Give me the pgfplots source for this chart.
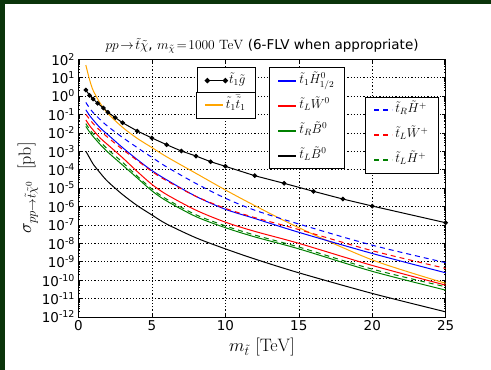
\documentclass[border=0pt]{standalone}
\usepackage{fix-cm}
\usepackage[no-math]{fontspec}
\setmainfont{DejaVu Sans}
\usepackage{pgfplots}
\pgfplotsset{compat=1.18}
\definecolor{bggreen}{RGB}{10,52,10}
\definecolor{mplorange}{RGB}{255,165,0}
\definecolor{mplgreen}{RGB}{0,128,0}
\pgfplotsset{
  geom/.style={at={(78.5pt,53pt)}, anchor=south west, scale only axis,
    width=367.2pt, height=257.8pt},
  legax/.style={geom, hide axis, xmin=0, xmax=1, ymin=0, ymax=1,
    legend cell align=left,
    legend image code/.code={\draw[##1] (0pt,0pt) -- (18pt,0pt);},
    legend style={draw=black, line width=0.8pt, fill=white, inner xsep=8pt, inner ysep=4pt,
      row sep=7pt, font=\fontsize{13}{15}\selectfont,
      nodes={inner sep=2pt, text height=10pt, text depth=4pt},
      /tikz/every even column/.append style={column sep=15pt}},
  },
}
\begin{document}
\begin{tikzpicture}[x=1pt,y=1pt]
\fill[bggreen] (0,0) rectangle (491,370);
\fill[white] (5,0) rectangle (491,366);
\begin{axis}[geom,
  xmin=0, xmax=25, ymode=log, ymin=1e-12, ymax=1e2,
  xtick={0,5,10,15,20,25},
  ytickten={-12,...,2},
  yticklabels={10\textsuperscript{-12},10\textsuperscript{-11},10\textsuperscript{-10},10\textsuperscript{-9},10\textsuperscript{-8},10\textsuperscript{-7},10\textsuperscript{-6},10\textsuperscript{-5},10\textsuperscript{-4},10\textsuperscript{-3},10\textsuperscript{-2},10\textsuperscript{-1},10\textsuperscript{0},10\textsuperscript{1},10\textsuperscript{2}},
  /pgf/number format/assume math mode=true,
  ticklabel style={font=\fontsize{13.5}{15}\selectfont},
  tick align=inside, major tick length=4pt, minor tick length=2pt,
  tick style={black, line width=0.6pt},
  axis line style={black, line width=1pt},
  grid=major, major grid style={black, line width=0.6pt, dash pattern=on 1.2pt off 2pt},
  title={$pp\!\rightarrow\!\tilde t\tilde\chi$, $m_{\tilde\chi}\!=\!1000\ \mathrm{TeV}$ (6-FLV when appropriate)},
  title style={font=\fontsize{13.5}{15}\selectfont, at={(0.5,1)}, anchor=south, yshift=-4pt},
  xlabel={$m_{\tilde t}\ [\mathrm{TeV}]$},
  ylabel={$\sigma_{pp\rightarrow\tilde t\tilde\chi^0}\ \ [\mathrm{pb}]$},
  label style={font=\fontsize{18}{20}\selectfont},
  ylabel style={yshift=-3pt},
  every axis plot/.append style={line width=1pt},
]
% t1 tbar1 (orange)
\addplot[mplorange, smooth] coordinates {(0.5,4.786e1) (0.75,7.943e0) (1,1.995e0) (1.5,3.802e-1) (2,1.122e-1) (3,1.995e-2) (4,5.012e-3) (5,1.585e-3) (6,5.012e-4) (8,6.310e-5) (10,7.943e-6) (12,1.122e-6) (15,7.079e-8) (20,1.259e-9) (25,6.761e-11)};
% t_R H+ (blue dashed)
\addplot[blue, smooth, dash pattern=on 5pt off 4pt] coordinates {(0.5,4.467e-1) (0.75,2.239e-1) (1,1.259e-1) (1.5,5.012e-2) (2,2.239e-2) (3,5.623e-3) (4,1.585e-3) (5,4.677e-4) (6,1.413e-4) (8,1.778e-5) (10,2.818e-6) (12,6.310e-7) (15,1.122e-7) (20,7.943e-9) (25,8.913e-10)};
% t1 H0 (blue)
\addplot[blue, smooth] coordinates {(0.5,1.778e-1) (0.75,8.913e-2) (1,5.012e-2) (1.5,1.778e-2) (2,7.943e-3) (3,1.585e-3) (4,3.548e-4) (5,8.913e-5) (6,2.818e-5) (8,3.548e-6) (10,7.079e-7) (12,2.239e-7) (15,3.981e-8) (20,2.818e-9) (25,2.512e-10)};
% t_L W+ (red dashed)
\addplot[red, smooth, dash pattern=on 5pt off 4pt] coordinates {(0.5,1.0e-1) (0.75,5.623e-2) (1,3.162e-2) (1.5,1.259e-2) (2,5.623e-3) (3,1.259e-3) (4,3.162e-4) (5,7.943e-5) (6,2.512e-5) (8,3.548e-6) (10,7.943e-7) (12,2.512e-7) (15,5.623e-8) (20,3.981e-9) (25,4.365e-10)};
% t_L W0 (red)
\addplot[red, smooth] coordinates {(0.5,5.012e-2) (0.75,2.512e-2) (1,1.413e-2) (1.5,5.012e-3) (2,2.239e-3) (3,4.467e-4) (4,7.943e-5) (5,1.585e-5) (6,4.467e-6) (8,6.310e-7) (10,1.413e-7) (12,4.467e-8) (15,1.0e-8) (20,6.310e-10) (25,5.370e-11)};
% t_L H+ (green dashed)
\addplot[mplgreen, smooth, dash pattern=on 5pt off 4pt] coordinates {(0.5,3.162e-2) (0.75,1.585e-2) (1,8.913e-3) (1.5,3.162e-3) (2,1.259e-3) (3,2.512e-4) (4,4.467e-5) (5,8.913e-6) (6,2.512e-6) (8,3.548e-7) (10,8.913e-8) (12,2.818e-8) (15,6.310e-9) (20,3.981e-10) (25,4.365e-11)};
% t_R B0 (green)
\addplot[mplgreen, smooth] coordinates {(0.5,2.239e-2) (0.75,1.122e-2) (1,6.310e-3) (1.5,2.239e-3) (2,8.913e-4) (3,1.778e-4) (4,3.548e-5) (5,7.079e-6) (6,1.995e-6) (8,2.818e-7) (10,7.079e-8) (12,2.239e-8) (15,5.012e-9) (20,3.020e-10) (25,2.884e-11)};
% t_L B0 (black)
\addplot[black, smooth] coordinates {(0.5,1.0e-3) (0.75,4.467e-4) (1,1.995e-4) (1.5,6.310e-5) (2,2.239e-5) (3,4.467e-6) (4,1.122e-6) (5,3.467e-7) (6,1.122e-7) (8,1.995e-8) (10,5.012e-9) (12,1.413e-9) (15,2.512e-10) (20,1.905e-11) (25,1.905e-12)};
% t1 gluino (black with dots)
\addplot[black, mark=*, mark size=1.8pt] coordinates {(0.5,2.123e0) (0.75,1.094e0) (1,6.887e-1) (1.3,4.027e-1) (1.7,2.234e-1) (2,1.306e-1) (2.5,6.761e-2) (3,3.556e-2) (4,1.259e-2) (5,5.248e-3) (6,2.270e-3) (7,1.033e-3) (8,5.521e-4) (9,2.704e-4) (10,1.524e-4) (12,4.699e-5) (14,1.816e-5) (16,6.683e-6) (18,2.547e-6) (20,1.062e-6) (25,1.315e-7)};
\end{axis}
% legend 1
\begin{axis}[legax, legend style={at={(0.483,0.969)}, anchor=north east},
  legend image code/.code={\draw[#1] plot coordinates {(0pt,0pt) (18pt,0pt)};}]
\addlegendimage{color=black, draw=black, fill=black, line width=1.5pt, mark=*, mark size=1.8pt}
\addlegendentry{$\tilde t_1\tilde g$}
\end{axis}
% legend 2
\begin{axis}[legax, legend style={at={(0.483,0.874)}, anchor=north east}]
\addlegendimage{color=mplorange, draw=mplorange, line width=2pt}
\addlegendentry{$\tilde t_1\bar{\tilde t}_1$}
\end{axis}
% legend 3
\begin{axis}[legax, legend style={at={(0.725,0.969)}, anchor=north east}]
\addlegendimage{color=blue, draw=blue, line width=2pt}
\addlegendentry{$\tilde t_1\tilde H^0_{1/2}$}
\addlegendimage{color=red, draw=red, line width=2pt}
\addlegendentry{$\tilde t_L\tilde W^0$}
\addlegendimage{color=mplgreen, draw=mplgreen, line width=2pt}
\addlegendentry{$\tilde t_R\tilde B^0$}
\addlegendimage{color=black, draw=black, line width=2pt}
\addlegendentry{$\tilde t_L\tilde B^0$}
\end{axis}
% legend 4
\begin{axis}[legax, legend style={at={(0.981,0.855)}, anchor=north east}]
\addlegendimage{color=blue, draw=blue, line width=2pt, dash pattern=on 5pt off 4pt}
\addlegendentry{$\tilde t_R\tilde H^+$}
\addlegendimage{color=red, draw=red, line width=2pt, dash pattern=on 5pt off 4pt}
\addlegendentry{$\tilde t_L\tilde W^+$}
\addlegendimage{color=mplgreen, draw=mplgreen, line width=2pt, dash pattern=on 5pt off 4pt}
\addlegendentry{$\tilde t_L\tilde H^+$}
\end{axis}
\end{tikzpicture}
\end{document}
